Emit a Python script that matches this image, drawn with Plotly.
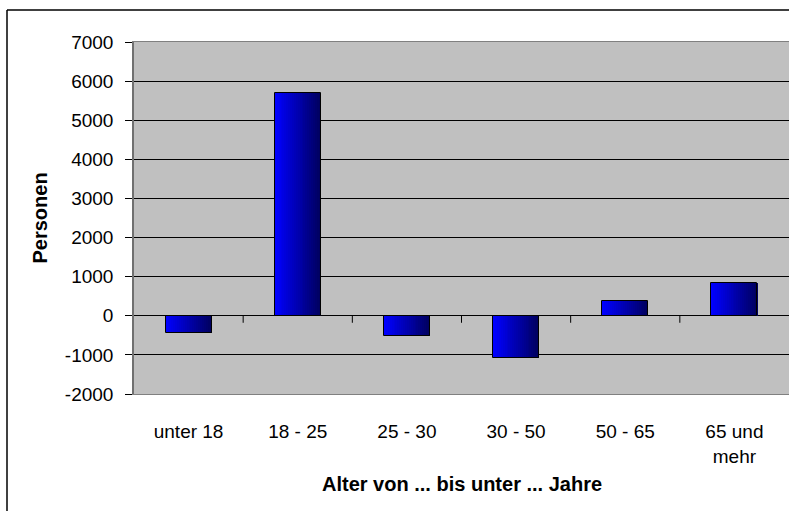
import plotly.graph_objects as go

categories = ["unter 18", "18 - 25", "25 - 30", "30 - 50", "50 - 65", "65 und<br>mehr"]
values = [-450, 5700, -520, -1090, 380, 850]
y_ticks = [-2000, -1000, 0, 1000, 2000, 3000, 4000, 5000, 6000, 7000]
y_tick_text = ["-2000", "-1000", "0", "1000", "2000", "3000", "4000", "5000", "6000", "7000"]

FONT = "Liberation Sans, Arial, sans-serif"
BAR_W = 0.42
N = 24
x_idx = list(range(len(categories)))

fig = go.Figure()
# gradient emulated with thin slices
for k in range(N):
    t = k / (N - 1)
    r, g, b = 0, 0, int(round(255 + (95 - 255) * t))
    fig.add_trace(go.Bar(
        x=x_idx, y=values, width=BAR_W / N + 0.0015,
        offset=-BAR_W / 2 + k * BAR_W / N,
        marker=dict(color=f"rgb({r},{g},{b})", line=dict(width=0)),
        hoverinfo="skip", showlegend=False))
# outline
fig.add_trace(go.Bar(
    x=x_idx, y=values, width=BAR_W, offset=-BAR_W / 2,
    marker=dict(color="rgba(0,0,0,0)", line=dict(color="black", width=1)),
    showlegend=False))

# category tick marks at zero line
shapes = []
for i in range(len(categories) - 1):
    shapes.append(dict(type="line", xref="x", yref="y", ysizemode="pixel", yanchor=0,
                       x0=i + 0.5, x1=i + 0.5, y0=0, y1=-7,
                       line=dict(color="black", width=1)))
# outer chart border (left and top edges visible)
L, T, B, W = 134, 42, 394, 655
H = B - T
bx, by = (7 - L) / W, (B - 10) / H
shapes.append(dict(type="line", xref="paper", yref="paper", x0=bx, x1=1.05, y0=by, y1=by,
                   line=dict(color="black", width=1.5), layer="below"))
shapes.append(dict(type="line", xref="paper", yref="paper", x0=bx, x1=bx, y0=-0.5, y1=by,
                   line=dict(color="black", width=1.5), layer="below"))

fig.update_layout(
    width=789, height=511,
    margin=dict(l=L, r=0, t=T, b=511 - B, pad=0),
    paper_bgcolor="white", plot_bgcolor="#C0C0C0",
    font=dict(family=FONT, size=19, color="black"),
    barmode="overlay", bargap=0,
    shapes=shapes,
    xaxis=dict(range=[-0.5, 5.5], tickmode="array", tickvals=x_idx, ticktext=categories,
               showgrid=False, zeroline=False, ticks="", showline=True,
               linecolor="#808080", linewidth=1, mirror=True,
               ticklabelstandoff=20, tickfont=dict(size=19)),
    yaxis=dict(range=[-2000, 7000], tickmode="array", tickvals=y_ticks, ticktext=y_tick_text,
               showgrid=True, gridcolor="black",
               gridwidth=1, zeroline=True, zerolinecolor="black", zerolinewidth=1,
               showline=True, linecolor="#707070", linewidth=1.5, mirror=False,
               ticks="outside", ticklen=7, tickcolor="black",
               ticklabelstandoff=8, tickfont=dict(size=19)),
    annotations=[
        dict(text="<b>Personen</b>", xref="paper", yref="paper",
             x=(39.5 - L) / W, y=0.5, textangle=-90, showarrow=False,
             xanchor="center", yanchor="middle", font=dict(size=20)),
        dict(text="<b>Alter von ... bis unter ... Jahre</b>", xref="paper", yref="paper",
             x=(462 - L) / W, y=(B - 484) / H, showarrow=False,
             xanchor="center", yanchor="middle", font=dict(size=20)),
    ],
)

fig.write_html("out.html", config={"displayModeBar": False},
               post_script="document.body.style.margin='0';document.body.style.overflow='hidden';")
